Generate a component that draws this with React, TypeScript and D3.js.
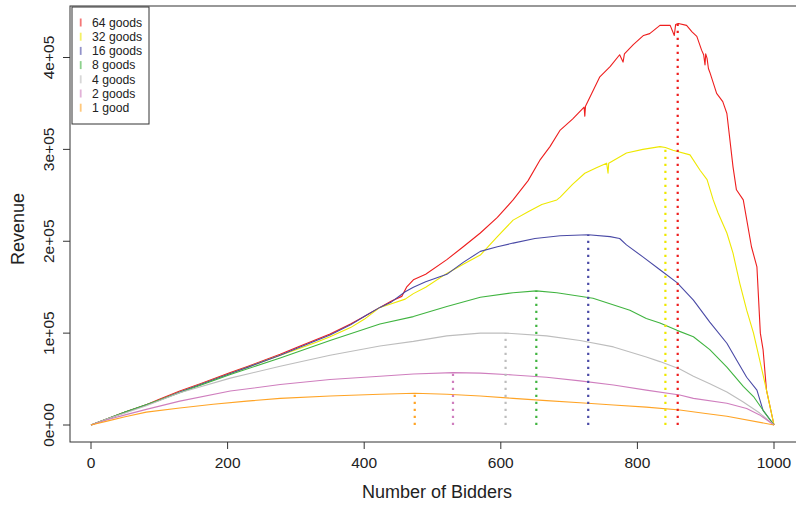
import React from "react";
import * as d3 from "d3";

// ---------- data (revenue in thousands) ----------
const seriesLabels = ["64 goods", "32 goods", "16 goods", "8 goods", "4 goods", "2 goods", "1 good"];
const seriesColors = ["#EE1E1E", "#EEE800", "#4A4AA6", "#40B440", "#BDBDBD", "#CF7EBE", "#FFA426"];

const bidders64 = [0, 25, 50, 81, 100, 130, 160, 204, 230, 277, 300, 330, 350, 380, 400, 423, 440, 455, 462, 472, 490, 521, 545, 570, 595, 618, 640, 657, 672, 687, 705, 722, 723, 724, 745, 760, 774, 779, 781, 794, 809, 818, 833, 848, 854, 856, 860, 872, 880, 887, 894, 897, 899, 900, 902, 904, 906, 916, 925, 931, 940, 945, 955, 967, 975, 980, 984, 989, 1000];
const revenue64 = [0, 7, 14, 22, 28, 37, 45, 57, 64, 77, 84, 93, 99, 110, 118, 128, 135, 140, 150, 158, 164, 180, 194, 209, 226, 245, 266, 288, 303, 321, 333, 346, 336, 347, 379, 390, 403, 395, 404, 414, 424, 426, 435, 435, 424, 436, 437, 435, 428, 423, 408, 403, 392, 404, 399, 388, 384, 361, 352, 339, 281, 256, 245, 194, 172, 100, 82, 38, 0];

const bidders32 = [0, 25, 50, 81, 100, 130, 160, 204, 230, 277, 300, 330, 350, 380, 400, 423, 440, 460, 472, 490, 521, 545, 570, 595, 618, 640, 660, 682, 687, 705, 723, 740, 755, 757, 758, 784, 808, 833, 841, 852, 877, 892, 902, 911, 918, 931, 940, 950, 960, 970, 979, 989, 1000];
const revenue32 = [0, 7, 14, 22, 27, 36, 44, 56, 63, 76, 82, 90, 96, 106, 115, 128, 132, 137, 143, 150, 165, 175, 185, 205, 223, 232, 240, 245, 248, 262, 274, 280, 285, 274, 285, 296, 300, 303, 302, 299, 294, 277, 267, 245, 231, 209, 187, 154, 125, 100, 71, 38, 0];

const bidders16 = [0, 25, 50, 81, 100, 130, 160, 204, 230, 277, 300, 330, 350, 380, 400, 423, 440, 460, 472, 490, 521, 545, 570, 595, 618, 650, 687, 728, 760, 774, 784, 808, 833, 858, 882, 906, 931, 945, 960, 975, 984, 1000];
const revenue16 = [0, 7, 14, 22, 27, 36, 44, 56, 63, 76, 83, 92, 98, 109, 118, 128, 134, 145, 150, 156, 164, 177, 189, 194, 198, 203, 206, 207, 205, 203, 196, 183, 169, 155, 136, 112, 89, 71, 52, 38, 16, 0];

const bidders8 = [0, 25, 50, 81, 130, 204, 277, 350, 423, 472, 521, 570, 618, 652, 682, 735, 789, 813, 833, 858, 882, 906, 931, 955, 970, 984, 1000];
const revenue8 = [0, 7, 14, 22, 35, 55, 73, 92, 110, 118, 129, 139, 144, 146, 144, 138, 125, 116, 111, 103, 96, 82, 63, 42, 31, 16, 0];

const bidders4 = [0, 25, 50, 81, 130, 204, 277, 350, 423, 472, 521, 570, 607, 667, 716, 765, 813, 833, 862, 882, 906, 931, 955, 979, 1000];
const revenue4 = [0, 7, 13, 21, 35, 51, 64, 76, 86, 91, 97, 100, 100, 97, 92, 85, 74, 69, 61, 53, 45, 36, 25, 13, 0];

const bidders2 = [0, 25, 50, 81, 130, 204, 277, 350, 423, 472, 530, 570, 618, 667, 716, 765, 813, 862, 882, 931, 960, 979, 1000];
const revenue2 = [0, 6, 11, 17, 26, 37, 44, 49.5, 53, 55.5, 57, 56.5, 54.5, 52, 48, 43.5, 38, 32.6, 29, 23.6, 18, 11, 0];

const bidders1 = [0, 25, 50, 81, 130, 179, 228, 277, 350, 423, 474, 521, 570, 618, 667, 716, 765, 813, 862, 900, 931, 1000];
const revenue1 = [0, 4.5, 9, 14, 18.5, 22.5, 26, 29, 31.5, 33.4, 34.5, 33.5, 31.6, 29, 26.5, 24.3, 21.8, 19.5, 16.3, 12.5, 9.5, 0];

const peakBidders = [859, 841, 728, 652, 607, 530, 474];
const peakRevenue = [437.5, 303, 207, 146, 100, 57, 34.5];

const xTicks = [0, 200, 400, 600, 800, 1000];
const yTicks = [0, 100, 200, 300, 400];
const yTickLabels = ["0e+00", "1e+05", "2e+05", "3e+05", "4e+05"];

const allBidders = [bidders64, bidders32, bidders16, bidders8, bidders4, bidders2, bidders1];
const allRevenue = [revenue64, revenue32, revenue16, revenue8, revenue4, revenue2, revenue1];

// ---------- chart ----------
const W = 796;
const H = 506;
const FONT = "'Liberation Sans', Arial, Helvetica, sans-serif";

export default function App() {
  const x = d3.scaleLinear().domain([0, 1000]).range([91, 774]);
  const y = d3.scaleLinear().domain([0, 400]).range([425, 57.5]);
  const line = d3
    .line<[number, number]>()
    .x((d) => x(d[0]))
    .y((d) => y(d[1]));

  const frame = { left: 70, top: 6, right: 800, bottom: 442 };

  return (
    <svg
      width={W}
      height={H}
      style={{ position: "absolute", left: 0, top: 0, background: "#fff" }}
      fontFamily={FONT}
    >
      <rect x={0} y={0} width={W} height={H} fill="#fff" />
      {/* frame */}
      <rect
        x={frame.left}
        y={frame.top}
        width={frame.right - frame.left}
        height={frame.bottom - frame.top}
        fill="none"
        stroke="#333"
        strokeWidth={1}
      />
      {/* series */}
      {allBidders.map((bs, i) => {
        const pts = bs.map((b, j) => [b, allRevenue[i][j]] as [number, number]);
        return (
          <path
            key={seriesLabels[i]}
            d={line(pts) || ""}
            fill="none"
            stroke={seriesColors[i]}
            strokeWidth={1.1}
            strokeLinejoin="round"
          />
        );
      })}
      {/* peak markers */}
      {peakBidders.map((b, i) => (
        <line
          key={"pk" + i}
          x1={x(b)}
          x2={x(b)}
          y1={y(0)}
          y2={y(peakRevenue[i])}
          stroke={seriesColors[i]}
          strokeWidth={2.2}
          strokeDasharray="2.2 4.8"
        />
      ))}
      {/* x axis ticks */}
      {xTicks.map((t) => (
        <g key={"xt" + t}>
          <line x1={x(t)} x2={x(t)} y1={frame.bottom} y2={frame.bottom + 7} stroke="#333" />
          <text x={x(t)} y={468} textAnchor="middle" fontSize={15.5} fill="#222">
            {t}
          </text>
        </g>
      ))}
      {/* y axis ticks */}
      {yTicks.map((t, i) => (
        <g key={"yt" + t}>
          <line x1={frame.left - 7} x2={frame.left} y1={y(t)} y2={y(t)} stroke="#333" />
          <text
            transform={`translate(${54},${y(t)}) rotate(-90)`}
            textAnchor="middle"
            fontSize={15.5}
            fill="#222"
          >
            {yTickLabels[i]}
          </text>
        </g>
      ))}
      {/* axis titles */}
      <text x={437} y={498} textAnchor="middle" fontSize={18} fill="#222">
        Number of Bidders
      </text>
      <text transform="translate(24,229) rotate(-90)" textAnchor="middle" fontSize={18} fill="#222">
        Revenue
      </text>
      {/* legend */}
      <rect x={72} y={7} width={77} height={117} fill="#fff" stroke="#333" strokeWidth={1} />
      {seriesLabels.map((s, i) => {
        const cy = 22.5 + i * 14.2;
        return (
          <g key={"lg" + i}>
            <line
              x1={80.7}
              x2={80.7}
              y1={cy - 4}
              y2={cy + 4}
              stroke={seriesColors[i]}
              strokeWidth={1.8}
              opacity={0.6}
            />
            <text x={92} y={cy + 4.3} fontSize={12.2} fill="#222">
              {s}
            </text>
          </g>
        );
      })}
    </svg>
  );
}
